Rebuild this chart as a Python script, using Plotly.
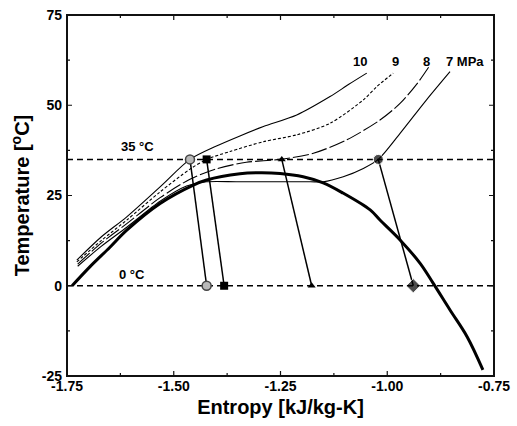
import plotly.graph_objects as go

# Saturation dome
dome_s = [-1.738, -1.696, -1.650, -1.610, -1.532, -1.454, -1.423, -1.345, -1.300, -1.251,
          -1.197, -1.150, -1.104, -1.040, -1.017, -0.970, -0.923, -0.893, -0.853, -0.813, -0.776]
dome_T = [0.0, 5.3, 10.6, 15.4, 22.8, 27.9, 29.3, 31.0, 31.3, 31.1,
          30.2, 28.5, 25.7, 21.0, 18.2, 12.7, 6.2, 0.8, -6.7, -14.1, -23.3]

# Isobars
p10_s = [-1.727, -1.670, -1.610, -1.532, -1.462, -1.400, -1.345, -1.290, -1.212, -1.134, -1.090, -1.048]
p10_T = [7.1, 13.5, 19.1, 27.4, 35.0, 38.7, 41.5, 44.1, 47.3, 52.4, 55.8, 58.9]

p9_s = [-1.727, -1.670, -1.610, -1.532, -1.462, -1.423, -1.368, -1.290, -1.212, -1.134, -1.056, -1.025, -0.986]
p9_T = [6.6, 12.5, 18.2, 26.0, 32.3, 35.0, 37.2, 39.9, 41.8, 45.0, 51.5, 55.1, 58.9]

p8_s = [-1.725, -1.670, -1.610, -1.532, -1.462, -1.400, -1.330, -1.251, -1.173, -1.095, -1.017, -0.970, -0.930, -0.900]
p8_T = [6.0, 11.8, 17.2, 24.4, 29.5, 32.4, 34.2, 35.0, 36.7, 40.4, 45.9, 50.5, 56.0, 61.1]

p7_s = [-1.725, -1.670, -1.610, -1.532, -1.470, -1.423, -1.350, -1.250, -1.180, -1.150, -1.103, -1.056, -1.021, -0.970, -0.908, -0.853]
p7_T = [5.4, 10.9, 16.2, 23.4, 27.6, 28.8, 28.8, 28.8, 28.8, 28.8, 30.2, 32.5, 35.0, 42.2, 51.5, 59.3]

# Expansion lines (35 degC -> 0 degC)
exp_T = [35, 0]
exp10_s = [-1.462, -1.423]
exp9_s = [-1.423, -1.382]
exp8_s = [-1.247, -1.177]
exp7_s = [-1.021, -0.939]

pressure_labels = ["10", "9", "8", "7 MPa"]
label_s = [-1.064, -0.980, -0.909, -0.867]
label_T = 62.1

x_ticks = [-1.75, -1.50, -1.25, -1.00, -0.75]
x_ticklabels = ["-1.75", "-1.50", "-1.25", "-1.00", "-0.75"]
x_minor = [-1.625, -1.375, -1.125, -0.875]
y_ticks = [-25, 0, 25, 50, 75]
y_ticklabels = ["-25", "0", "25", "50", "75"]
y_minor = [-12.5, 12.5, 37.5, 62.5]

X0, X1 = x_ticks[0], x_ticks[-1]
Y0, Y1 = y_ticks[0], y_ticks[-1]
PLOT_W, PLOT_H = 427, 361
px_x = (X1 - X0) / PLOT_W
px_y = (Y1 - Y0) / PLOT_H

fig = go.Figure()

for T in [35, 0]:
    fig.add_trace(go.Scatter(x=[X0, X1], y=[T, T], mode="lines",
                             line=dict(color="black", width=1.5, dash="6px,4px"),
                             showlegend=False, hoverinfo="skip"))

fig.add_trace(go.Scatter(x=dome_s, y=dome_T, mode="lines", line_shape="spline",
                         line=dict(color="black", width=3), showlegend=False))

for s, T, dash in [(p10_s, p10_T, "solid"), (p9_s, p9_T, "3px,2px"),
                   (p8_s, p8_T, "16px,3px"), (p7_s, p7_T, "solid")]:
    fig.add_trace(go.Scatter(x=s, y=T, mode="lines", line_shape="spline",
                             line=dict(color="black", width=1.1, dash=dash, smoothing=0.8),
                             showlegend=False))

fig.add_trace(go.Scatter(x=exp10_s, y=exp_T, mode="lines+markers",
                         line=dict(color="black", width=1.5),
                         marker=dict(symbol="circle", size=9, color="#b8b8b8",
                                     line=dict(color="#444444", width=1.5)),
                         showlegend=False))
fig.add_trace(go.Scatter(x=exp9_s, y=exp_T, mode="lines+markers",
                         line=dict(color="black", width=1.5),
                         marker=dict(symbol="square", size=8, color="black"),
                         showlegend=False))
fig.add_trace(go.Scatter(x=exp8_s, y=exp_T, mode="lines+markers",
                         line=dict(color="black", width=1.5),
                         marker=dict(symbol="triangle-up", size=7, color="black"),
                         showlegend=False))
fig.add_trace(go.Scatter(x=exp7_s, y=exp_T, mode="lines+markers",
                         line=dict(color="black", width=1.5),
                         marker=dict(symbol=["circle", "diamond"], size=[10, 11], color="black"),
                         showlegend=False))

# inside tick marks from the tick arrays
path = []
for vals, ln in [(x_ticks, 5), (x_minor, 3)]:
    for v in vals:
        path.append("M %f,%f L %f,%f" % (v, Y0, v, Y0 + ln * px_y))
        path.append("M %f,%f L %f,%f" % (v, Y1, v, Y1 - ln * px_y))
for vals, ln in [(y_ticks, 5), (y_minor, 3)]:
    for v in vals:
        path.append("M %f,%f L %f,%f" % (X0, v, X0 + ln * px_x, v))
        path.append("M %f,%f L %f,%f" % (X1, v, X1 - ln * px_x, v))
fig.add_shape(type="path", xref="x", yref="y", path=" ".join(path),
              line=dict(color="#111111", width=1.2), layer="above")
fig.add_shape(type="rect", xref="paper", yref="paper", x0=0, y0=0, x1=1, y1=1,
              line=dict(color="#111111", width=2), layer="above")

font_family = "Liberation Sans, Arial, sans-serif"
annotations = []
for lab, s in zip(pressure_labels, label_s):
    annotations.append(dict(x=s, y=label_T, text="<b>" + lab + "</b>", showarrow=False,
                            xanchor="left" if lab.endswith("MPa") else "center",
                            font=dict(size=13, family=font_family, color="black")))
annotations.append(dict(x=-1.586, y=38.6, text="<b>35 °C</b>", showarrow=False,
                        font=dict(size=13, family=font_family, color="black")))
annotations.append(dict(x=-1.598, y=3.2, text="<b>0 °C</b>", showarrow=False,
                        font=dict(size=13, family=font_family, color="black")))

tickfont = dict(size=14, family=font_family, color="black", weight="bold")
fig.update_xaxes(range=[X0, X1], tickmode="array", tickvals=x_ticks,
                 ticktext=["<b>%s</b>" % t for t in x_ticklabels],
                 showgrid=False, zeroline=False, showline=False, ticks="", tickfont=tickfont,
                 title=dict(text="<b>Entropy [kJ/kg-K]</b>", standoff=6,
                            font=dict(size=20, family=font_family, color="black")))
fig.update_yaxes(range=[Y0, Y1], tickmode="array", tickvals=y_ticks,
                 ticktext=["<b>%s</b>" % t for t in y_ticklabels],
                 showgrid=False, zeroline=False, showline=False, ticks="", tickfont=tickfont,
                 ticklabelstandoff=4,
                 title=dict(text="<b>Temperature [<sup>o</sup>C]</b>", standoff=6,
                            font=dict(size=20, family=font_family, color="black")))

fig.update_layout(
    width=517, height=426,
    margin=dict(l=67, r=23, t=15, b=50, autoexpand=False),
    plot_bgcolor="white", paper_bgcolor="white",
    annotations=annotations,
)

fig.write_html("out.html")
